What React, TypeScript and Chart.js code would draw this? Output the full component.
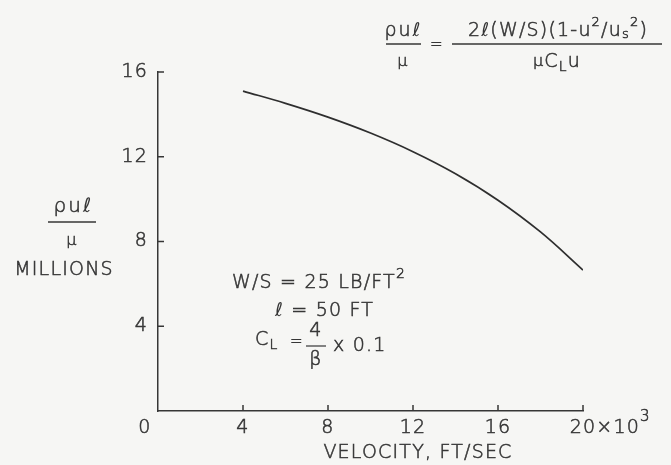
import React, { useEffect, useRef } from "react";
import { Chart, registerables } from "chart.js";

Chart.register(...registerables);

const velocityK = [4, 6, 8, 10, 12, 14, 16, 18, 20];
const reynoldsMillions = [15.1, 14.52, 13.87, 13.12, 12.24, 11.2, 9.95, 8.45, 6.65];
const xTickValues = [4, 8, 12, 16, 20];
const yTickValues = [4, 8, 12, 16];
const xTickLabels = ["4", "8", "12", "16", "20"];
const yTickLabels = ["4", "8", "12", "16"];
const xTitle = "VELOCITY, FT/SEC";
const yTitleUnit = "MILLIONS";

const FONT = '"DejaVu Sans", sans-serif';
const WEIGHT = "200";
const INK = "#363636";

type Part = { t: string; dy?: number; size?: number; sp?: number; ell?: boolean };

function setFont(ctx: CanvasRenderingContext2D, size: number, sp: number, ell?: boolean) {
  ctx.font = ell ? `italic 200 ${size}px ${FONT}` : `${WEIGHT} ${size}px ${FONT}`;
  (ctx as any).letterSpacing = `${sp}px`;
}

function richWidth(ctx: CanvasRenderingContext2D, parts: Part[], size: number, sp: number) {
  let w = 0;
  for (const p of parts) {
    setFont(ctx, p.size ?? size, p.sp ?? sp, p.ell);
    w += ctx.measureText(p.t).width;
  }
  return w;
}

function drawRich(
  ctx: CanvasRenderingContext2D,
  parts: Part[],
  x: number,
  y: number,
  size: number,
  align: "left" | "center" | "right" = "left",
  sp = 1.2
) {
  const w = richWidth(ctx, parts, size, sp);
  let cx = align === "left" ? x : align === "center" ? x - w / 2 : x - w;
  ctx.textAlign = "left";
  ctx.textBaseline = "middle";
  const lw = ctx.lineWidth;
  for (const p of parts) {
    setFont(ctx, p.size ?? size, p.sp ?? sp, p.ell);
    ctx.fillText(p.t, cx, y + (p.dy ?? 0));
    if (!p.ell) {
      ctx.lineWidth = 0.55;
      ctx.strokeText(p.t, cx, y + (p.dy ?? 0));
    }
    cx += ctx.measureText(p.t).width;
  }
  ctx.lineWidth = lw;
  (ctx as any).letterSpacing = "0px";
  return w;
}

function hline(ctx: CanvasRenderingContext2D, x1: number, x2: number, y: number, w = 1.4) {
  ctx.lineWidth = w;
  ctx.beginPath();
  ctx.moveTo(x1, y);
  ctx.lineTo(x2, y);
  ctx.stroke();
}

const overlayPlugin = {
  id: "overlay",
  beforeDraw(chart: any) {
    const ctx = chart.ctx as CanvasRenderingContext2D;
    ctx.save();
    ctx.fillStyle = "#f6f6f4";
    ctx.fillRect(0, 0, chart.width, chart.height);
    ctx.restore();
  },
  afterDraw(chart: any) {
    const ctx = chart.ctx as CanvasRenderingContext2D;
    const xs = chart.scales.x;
    const ys = chart.scales.y;
    const { left, bottom } = chart.chartArea;
    ctx.save();
    ctx.strokeStyle = INK;
    ctx.fillStyle = INK;
    ctx.lineWidth = 1.5;
    // inward tick marks
    xTickValues.forEach((v) => {
      const px = xs.getPixelForValue(v);
      ctx.beginPath();
      ctx.moveTo(px, bottom);
      ctx.lineTo(px, bottom - 6);
      ctx.stroke();
    });
    yTickValues.forEach((v) => {
      const py = ys.getPixelForValue(v);
      ctx.beginPath();
      ctx.moveTo(left, py);
      ctx.lineTo(left + 6, py);
      ctx.stroke();
    });
    // tick labels
    const labY = bottom + 17;
    xTickValues.forEach((v, i) => {
      const px = xs.getPixelForValue(v);
      if (i === xTickValues.length - 1) {
        setFont(ctx, 19, 1.2);
        const w20 = ctx.measureText(xTickLabels[i]).width;
        drawRich(
          ctx,
          [{ t: xTickLabels[i] }, { t: "×10" }, { t: "3", dy: -11, size: 15 }],
          px - w20 / 2,
          labY,
          19,
          "left"
        );
      } else {
        drawRich(ctx, [{ t: xTickLabels[i] }], px, labY, 19, "center");
      }
    });
    drawRich(ctx, [{ t: "0" }], left - 13, labY, 19, "center");
    yTickValues.forEach((v, i) => {
      const py = ys.getPixelForValue(v);
      drawRich(ctx, [{ t: yTickLabels[i] }], left - 10, py, 19, "right");
    });
    // x title
    drawRich(ctx, [{ t: xTitle }], 418, 453, 19, "center");
    // y title fraction
    drawRich(ctx, [{ t: "ρu", sp: 2 }, { t: "ℓ", ell: true }], 73, 207, 20, "center");
    hline(ctx, 48, 96, 222);
    drawRich(ctx, [{ t: "μ" }], 72, 241, 16, "center");
    drawRich(ctx, [{ t: yTitleUnit }], 64, 270, 19, "center");
    // top formula
    drawRich(ctx, [{ t: "ρu", sp: 2 }, { t: "ℓ", ell: true }], 403, 31, 19, "center");
    hline(ctx, 386, 421, 44);
    drawRich(ctx, [{ t: "μ" }], 403, 62, 16, "center");
    drawRich(ctx, [{ t: "=" }], 437, 45, 15, "center");
    drawRich(
      ctx,
      [
        { t: "2" },
        { t: "ℓ", ell: true },
        { t: "(W/S)(1-u" },
        { t: "2", dy: -8, size: 13 },
        { t: "/u" },
        { t: "s", dy: 4, size: 13 },
        { t: "2", dy: -8, size: 13 },
        { t: ")" },
      ],
      558,
      31,
      19,
      "center"
    );
    hline(ctx, 452, 662, 44);
    drawRich(
      ctx,
      [{ t: "μ", size: 16 }, { t: "C" }, { t: "L", dy: 5, size: 14 }, { t: "u" }],
      557,
      62,
      19,
      "center"
    );
    // annotation
    drawRich(
      ctx,
      [{ t: "W/S = 25 LB/FT" }, { t: "2", dy: -9, size: 14 }],
      232,
      283,
      19,
      "left"
    );
    drawRich(ctx, [{ t: "ℓ", ell: true }, { t: " = 50 FT" }], 275, 311, 19, "left");
    drawRich(ctx, [{ t: "C" }, { t: "L", dy: 5, size: 14 }], 255, 340, 19, "left");
    drawRich(ctx, [{ t: "=" }], 297, 342, 15, "center");
    drawRich(ctx, [{ t: "4" }], 316, 331, 19, "center");
    hline(ctx, 306, 326, 346, 1.2);
    drawRich(ctx, [{ t: "β" }], 316, 360, 19, "center");
    drawRich(ctx, [{ t: "x 0.1" }], 333, 346, 19, "left");
    ctx.restore();
  },
};

export default function App() {
  const ref = useRef<HTMLCanvasElement | null>(null);
  useEffect(() => {
    document.body.style.margin = "0";
    if (!ref.current) return;
    const chart = new Chart(ref.current, {
      type: "line",
      data: {
        datasets: [
          {
            data: velocityK.map((v, i) => ({ x: v, y: reynoldsMillions[i] })),
            borderColor: "#2e2e2e",
            borderWidth: 1.7,
            pointRadius: 0,
            tension: 0.4,
            fill: false,
          },
        ],
      },
      options: {
        responsive: false,
        animation: false,
        layout: { padding: { left: 158, right: 88, top: 72, bottom: 54 } },
        plugins: { legend: { display: false }, tooltip: { enabled: false } },
        scales: {
          x: {
            type: "linear",
            min: 0,
            max: 20,
            grid: { display: false, drawTicks: false },
            ticks: { display: false },
            border: { display: true, color: INK, width: 1.5 },
            afterFit: (s: any) => {
              s.height = 0;
            },
          },
          y: {
            type: "linear",
            min: 0,
            max: 16,
            grid: { display: false, drawTicks: false },
            ticks: { display: false },
            border: { display: true, color: INK, width: 1.5 },
            afterFit: (s: any) => {
              s.width = 0;
            },
          },
        },
      },
      plugins: [overlayPlugin],
    } as any);
    return () => chart.destroy();
  }, []);
  return <canvas ref={ref} width={671} height={465} style={{ display: "block" }} />;
}
